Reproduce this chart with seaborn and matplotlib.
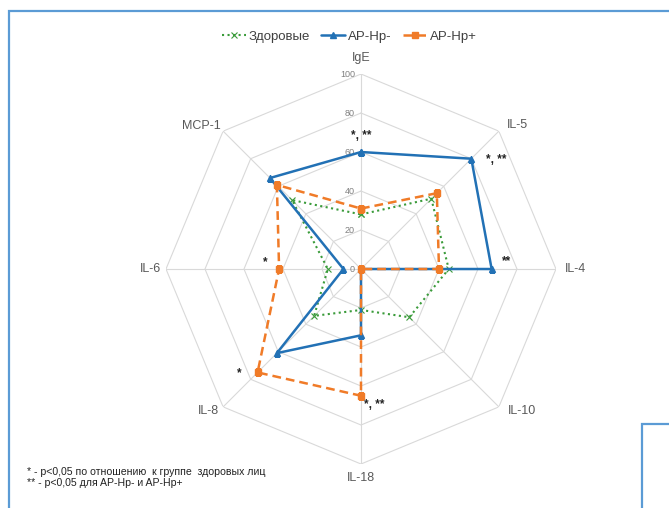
import numpy as np
import matplotlib.pyplot as plt
import seaborn as sns
from matplotlib.patches import Rectangle
from matplotlib.transforms import offset_copy

# data
categories = ['IgE', 'IL-5', 'IL-4', 'IL-10', 'IL-18', 'IL-8', 'IL-6', 'MCP-1']
healthy = [28, 51, 45, 35, 21, 34, 17, 50]
ap_hp_neg = [60, 80, 67, 0, 34, 61, 9, 66]
ap_hp_pos = [31, 55, 40, 0, 65, 75, 42, 61]
signif = ['*, **', '*, **', '**', '', '*, **', '*', '*', '']
ticks = [0, 20, 40, 60, 80, 100]

sns.set_style('white')
plt.rcParams['font.family'] = ['Liberation Sans', 'DejaVu Sans']

fig = plt.figure(figsize=(6.69, 5.08), dpi=100)
ax = fig.add_axes([0.2481, 0.0866, 0.583, 0.7677], projection='polar')
ax.set_theta_zero_location('N')
ax.set_theta_direction(-1)
ax.set_ylim(0, 100)
ax.grid(False)
ax.spines['polar'].set_visible(False)
ax.set_xticks([])
ax.set_yticks([])

angles = np.linspace(0, 2 * np.pi, len(categories), endpoint=False)
closed = np.append(angles, angles[0])

# octagon grid and spokes
for t in ticks[1:]:
    ax.plot(closed, [t] * len(closed), color='#d9d9d9', lw=0.8, zorder=1)
for a in angles:
    ax.plot([a, a], [0, 100], color='#d9d9d9', lw=0.8, zorder=1)
tick_tr = offset_copy(ax.transData, fig=fig, x=-6, y=0, units='dots')
for t in ticks:
    ax.text(0, t, str(t), fontsize=6.5, color='#7f7f7f', ha='right', va='center',
            transform=tick_tr)

def close(v):
    return list(v) + [v[0]]

ax.plot(closed, close(healthy), color='#3a9b3a', ls=':', lw=1.5, marker='x', ms=5,
        mew=0.8, label='Здоровые', zorder=3)
ax.plot(closed, close(ap_hp_neg), color='#2271b5', ls='-', lw=1.8, marker='^', ms=4,
        label='AP-Hp-', zorder=4)
ax.plot(closed, close(ap_hp_pos), color='#f07b28', ls=(0, (3.5, 2)), lw=1.8, marker='s', ms=5,
        label='AP-Hp+', zorder=5)

# category labels
lab_pos = [(0.0, 108), (0.825, 109), (1.571, 110), (2.296, 110),
           (3.1416, 107), (3.964, 107), (4.712, 108), (5.445, 110)]
for c, p in zip(categories, lab_pos):
    ax.text(p[0], p[1], c, fontsize=9, color='#595959', ha='center', va='center', clip_on=False)

# significance marks
sig_pos = [(0.0, 68), (0.89, 89), (1.516, 75), None, (3.046, 70), (4.007, 82), (4.785, 49), None]
for s, p in zip(signif, sig_pos):
    if s and p:
        ax.text(p[0], p[1], s, fontsize=8.5, fontweight='bold', color='#222222',
                ha='center', va='center')

fig.legend(loc='center', bbox_to_anchor=(0.522, 1 - 37 / 508), ncol=3, frameon=False,
           fontsize=9.5, handlelength=1.8, columnspacing=0.9, handletextpad=0.2,
           labelcolor='#404040')

fig.text(27 / 669, 1 - 472 / 508, '* - p<0,05 по отношению  к группе  здоровых лиц', fontsize=7.6,
         color='#222222', va='center')
fig.text(27 / 669, 1 - 483 / 508, '** - p<0,05 для AP-Hp- и AP-Hp+', fontsize=7.6,
         color='#222222', va='center')

# selection frames
fig.patches.append(Rectangle((9 / 669, -0.1), 1.2, 1 - 11 / 508 + 0.1, transform=fig.transFigure,
                             fill=False, ec='#5b9bd5', lw=1.6))
fig.patches.append(Rectangle((642 / 669, -0.1), 0.5, 1 - 424 / 508 + 0.1, transform=fig.transFigure,
                             fill=False, ec='#5b9bd5', lw=1.6))

fig.savefig('out.png', dpi=100)
